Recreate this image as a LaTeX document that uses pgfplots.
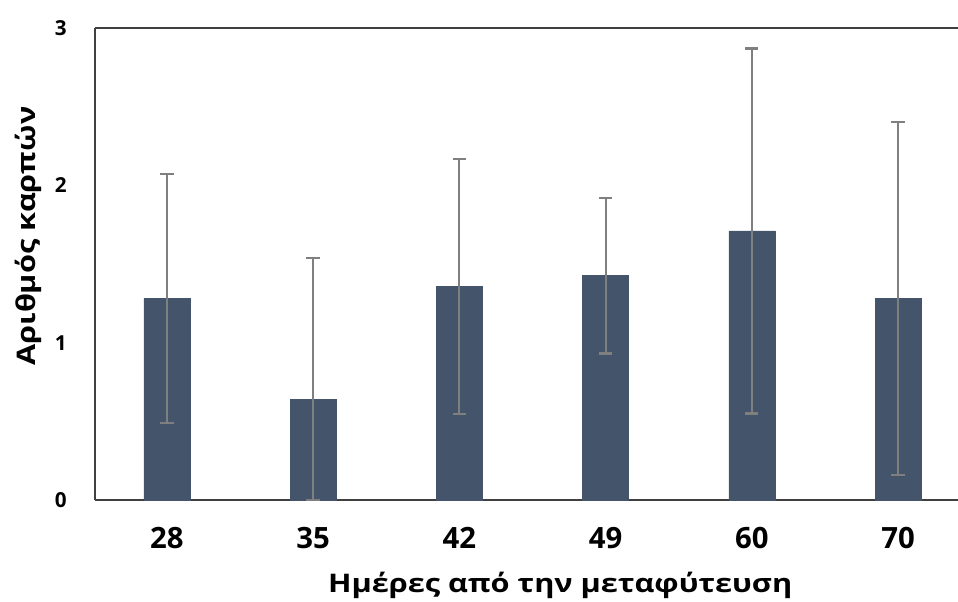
\documentclass[border=0pt]{standalone}
\usepackage{pgfplots}
\pgfplotsset{compat=1.18}
\usepackage{fontspec}
\setmainfont{Open Sans}
\newfontfamily\labfont{Open Sans}[FakeStretch=1.2]
\definecolor{barcol}{HTML}{44546A}
\definecolor{errcol}{HTML}{7F7F7F}
\definecolor{axcol}{HTML}{404040}
\begin{document}
\begin{tikzpicture}
\useasboundingbox (-71.25pt,-75.75pt) rectangle (647.25pt,375pt);
\begin{axis}[
  at={(0,0)}, anchor=south west,
  scale only axis,
  width=647.25pt, height=354pt,
  xmin=-0.492, xmax=5.41,
  ymin=0, ymax=3,
  axis x line*=box, axis y line*=left,
  axis line style={draw=axcol, line width=1.5pt},
  xtick={0,1,2,3,4,5},
  xticklabels={28,35,42,49,60,70},
  ytick={0,1,2,3},
  major tick length=0pt,
  /pgf/number format/assume math mode=true,
  x tick label style={font=\fontsize{22}{24}\selectfont\bfseries, inner sep=0pt, anchor=north, yshift=-20pt},
  y tick label style={font=\fontsize{15.5}{17}\selectfont\bfseries, inner sep=0pt, anchor=east, xshift=-21pt},
  xlabel={Ημέρες από την μεταφύτευση},
  ylabel={Αριθμός καρπών},
  xlabel style={font=\labfont\bfseries\fontsize{19.2}{21}\selectfont, at={(axis description cs:0.539,-0.195)}, anchor=base, inner sep=0pt},
  ylabel style={font=\labfont\bfseries\fontsize{19.2}{21}\selectfont, at={(axis description cs:-0.0684,0.559)}, anchor=base, inner sep=0pt},
  clip=false,
]
\addplot[ybar, bar width=0.314, fill=barcol, draw=barcol, bar shift=0pt,
  error bars/.cd, y dir=both, y explicit,
  error bar style={draw=errcol, line width=1.6pt},
  error mark options={draw=errcol, line width=1.6pt, mark size=5pt, rotate=90}]
  coordinates {
    (0,1.28) +- (0,0.79)
    (1,0.64) += (0,0.90) -= (0,0.64)
    (2,1.356) +- (0,0.81)
    (3,1.426) +- (0,0.495)
    (4,1.71) +- (0,1.16)
    (5,1.28) +- (0,1.12)
  };
\end{axis}
\end{tikzpicture}
\end{document}
